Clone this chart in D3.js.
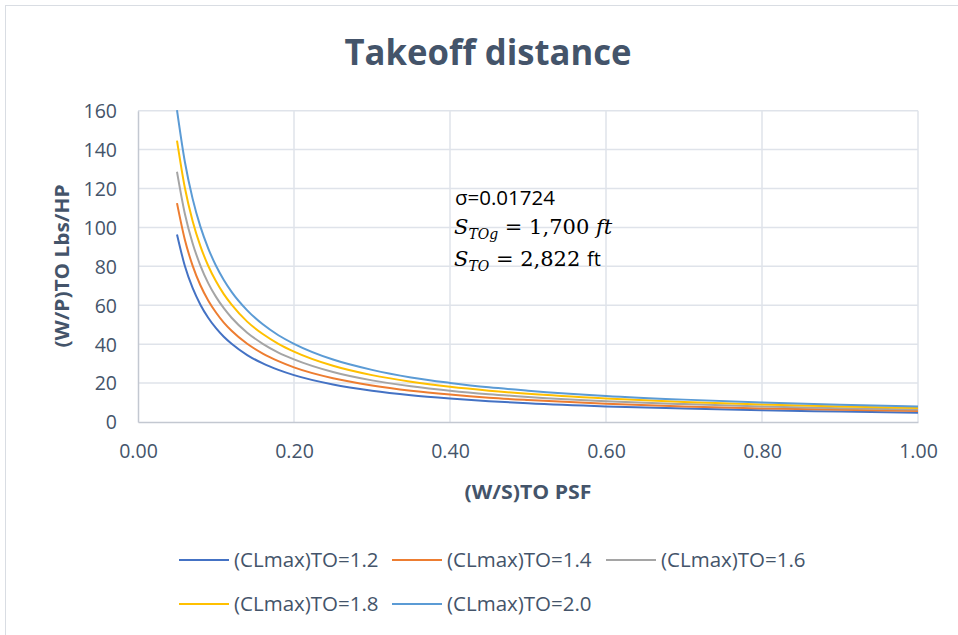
<!DOCTYPE html>
<html>
<head>
<meta charset="utf-8">
<script src="https://cdn.jsdelivr.net/npm/d3@7"></script>
<style>
  html, body { margin: 0; padding: 0; background: #fff; }
  svg { display: block; }
</style>
</head>
<body>
<svg id="chart" width="958" height="635"></svg>
<script>
// Wing loading (W/S)TO, PSF
const wingLoading = [0.05, 0.06, 0.07, 0.08, 0.09, 0.10, 0.11, 0.12, 0.14, 0.16, 0.18, 0.20,
                     0.25, 0.30, 0.35, 0.40, 0.45, 0.50, 0.60, 0.70, 0.80, 0.90, 1.00];

// Power loading (W/P)TO, Lbs/HP, for each takeoff lift coefficient
const cl12 = [96.4, 80.3, 68.9, 60.3, 53.6, 48.2, 43.8, 40.2, 34.4, 30.1, 26.8, 24.1,
              19.3, 16.1, 13.8, 12.1, 10.7, 9.6, 8.0, 6.9, 6.0, 5.4, 4.8];
const cl14 = [112.5, 93.8, 80.4, 70.3, 62.5, 56.3, 51.1, 46.9, 40.2, 35.2, 31.3, 28.1,
              22.5, 18.8, 16.1, 14.1, 12.5, 11.3, 9.4, 8.0, 7.0, 6.3, 5.6];
const cl16 = [128.6, 107.2, 91.9, 80.4, 71.4, 64.3, 58.5, 53.6, 45.9, 40.2, 35.7, 32.2,
              25.7, 21.4, 18.4, 16.1, 14.3, 12.9, 10.7, 9.2, 8.0, 7.1, 6.4];
const cl18 = [144.6, 120.5, 103.3, 90.4, 80.3, 72.3, 65.7, 60.3, 51.6, 45.2, 40.2, 36.2,
              28.9, 24.1, 20.7, 18.1, 16.1, 14.5, 12.1, 10.3, 9.0, 8.0, 7.2];
const cl20 = [160.3, 133.9, 114.8, 100.4, 89.3, 80.3, 73.0, 66.9, 57.4, 50.2, 44.6, 40.2,
              32.1, 26.8, 22.9, 20.1, 17.8, 16.1, 13.4, 11.5, 10.0, 8.9, 8.0];

const seriesNames = ["(CLmax)TO=1.2", "(CLmax)TO=1.4", "(CLmax)TO=1.6", "(CLmax)TO=1.8", "(CLmax)TO=2.0"];
const seriesValues = [cl12, cl14, cl16, cl18, cl20];
const seriesColors = ["#4472c4", "#ed7d31", "#a5a5a5", "#ffc000", "#5b9bd5"];

const xTicks = [0, 0.2, 0.4, 0.6, 0.8, 1.0];
const yTicks = [0, 20, 40, 60, 80, 100, 120, 140, 160];

const svg = d3.select("#chart");
const font = "'Open Sans', sans-serif";
const serif = "'DejaVu Serif', 'Liberation Serif', serif";
const textColor = "#44546a";

// chart frame
svg.append("rect")
  .attr("x", 5.5).attr("y", 5.5)
  .attr("width", 960).attr("height", 640)
  .attr("fill", "#fff").attr("stroke", "#d9dde3").attr("stroke-width", 1);

const x = d3.scaleLinear().domain([0, 1]).range([138, 918]);
const y = d3.scaleLinear().domain([0, 160]).range([422, 110.7]);

// gridlines
const grid = svg.append("g");
grid.selectAll("line.h").data(yTicks.slice(1)).join("line")
  .attr("x1", x(0)).attr("x2", x(1))
  .attr("y1", d => y(d)).attr("y2", d => y(d))
  .attr("stroke", "#dfe3ea").attr("stroke-width", 1.5);
grid.selectAll("line.v").data(xTicks.slice(1)).join("line")
  .attr("y1", y(0)).attr("y2", y(160))
  .attr("x1", d => x(d)).attr("x2", d => x(d))
  .attr("stroke", "#dfe3ea").attr("stroke-width", 1.5);

// axes
const xAxis = svg.append("g").attr("transform", `translate(0,${y(0)})`)
  .call(d3.axisBottom(x).tickValues(xTicks).tickFormat(d3.format(".2f")).tickSize(0).tickPadding(22));
const yAxis = svg.append("g").attr("transform", `translate(${x(0)},0)`)
  .call(d3.axisLeft(y).tickValues(yTicks).tickSize(0).tickPadding(21));
[xAxis, yAxis].forEach(a => {
  a.select(".domain").attr("stroke", "#c3c8d1").attr("stroke-width", 1.5);
  a.selectAll("text").attr("font-family", font).attr("font-size", 19.5).attr("fill", textColor);
});
yAxis.selectAll("text").attr("dy", "0.35em");

// curves
const line = d3.line()
  .x((d, i) => x(wingLoading[i]))
  .y(d => y(d))
  .curve(d3.curveMonotoneX);
svg.append("g").selectAll("path").data(seriesValues).join("path")
  .attr("d", d => line(d))
  .attr("fill", "none")
  .attr("stroke", (d, i) => seriesColors[i])
  .attr("stroke-width", 2);

// title and axis titles
svg.append("text").attr("x", 488).attr("y", 65).attr("text-anchor", "middle")
  .attr("font-family", font).attr("font-weight", 700).attr("font-size", 35)
  .attr("fill", textColor).attr("textLength", 287).attr("lengthAdjust", "spacingAndGlyphs")
  .text("Takeoff distance");
svg.append("text").attr("x", 528).attr("y", 499).attr("text-anchor", "middle")
  .attr("font-family", font).attr("font-weight", 700).attr("font-size", 19)
  .attr("fill", textColor).attr("textLength", 127).attr("lengthAdjust", "spacingAndGlyphs")
  .text("(W/S)TO PSF");
svg.append("text").attr("transform", "translate(69,266) rotate(-90)").attr("text-anchor", "middle")
  .attr("font-family", font).attr("font-weight", 700).attr("font-size", 19)
  .attr("fill", textColor).attr("textLength", 163).attr("lengthAdjust", "spacingAndGlyphs")
  .text("(W/P)TO  Lbs/HP");

// annotation
const note = svg.append("g").attr("fill", "#000");
note.append("text").attr("x", 455).attr("y", 205).attr("font-family", font).attr("font-size", 20.5)
  .text("σ=0.01724");
const l2 = note.append("text").attr("x", 454).attr("y", 234).attr("font-family", serif).attr("font-size", 21);
l2.append("tspan").attr("font-style", "italic").text("S");
l2.append("tspan").attr("font-style", "italic").attr("font-size", 14).attr("dy", 5).text("TOg");
l2.append("tspan").attr("dy", -5).text(" = 1,700 ");
l2.append("tspan").attr("font-style", "italic").text("ft");
const l3 = note.append("text").attr("x", 454).attr("y", 266).attr("font-family", serif).attr("font-size", 21);
l3.append("tspan").attr("font-style", "italic").text("S");
l3.append("tspan").attr("font-style", "italic").attr("font-size", 14).attr("dy", 5).text("TO");
l3.append("tspan").attr("dy", -5).text(" = 2,822 ");
l3.append("tspan").attr("font-family", font).attr("font-size", 20).text("ft");

// legend
const legendPos = [[179, 560], [392, 560], [606, 560], [179, 604], [392, 604]];
const legend = svg.append("g").selectAll("g").data(seriesNames).join("g")
  .attr("transform", (d, i) => `translate(${legendPos[i][0]},${legendPos[i][1]})`);
legend.append("line").attr("x1", 0).attr("x2", 50).attr("y1", 0).attr("y2", 0)
  .attr("stroke", (d, i) => seriesColors[i]).attr("stroke-width", 2);
legend.append("text").attr("x", 55).attr("y", 0).attr("dy", "0.35em")
  .attr("font-family", font).attr("font-size", 20.5).attr("fill", textColor)
  .text(d => d);
</script>
</body>
</html>
